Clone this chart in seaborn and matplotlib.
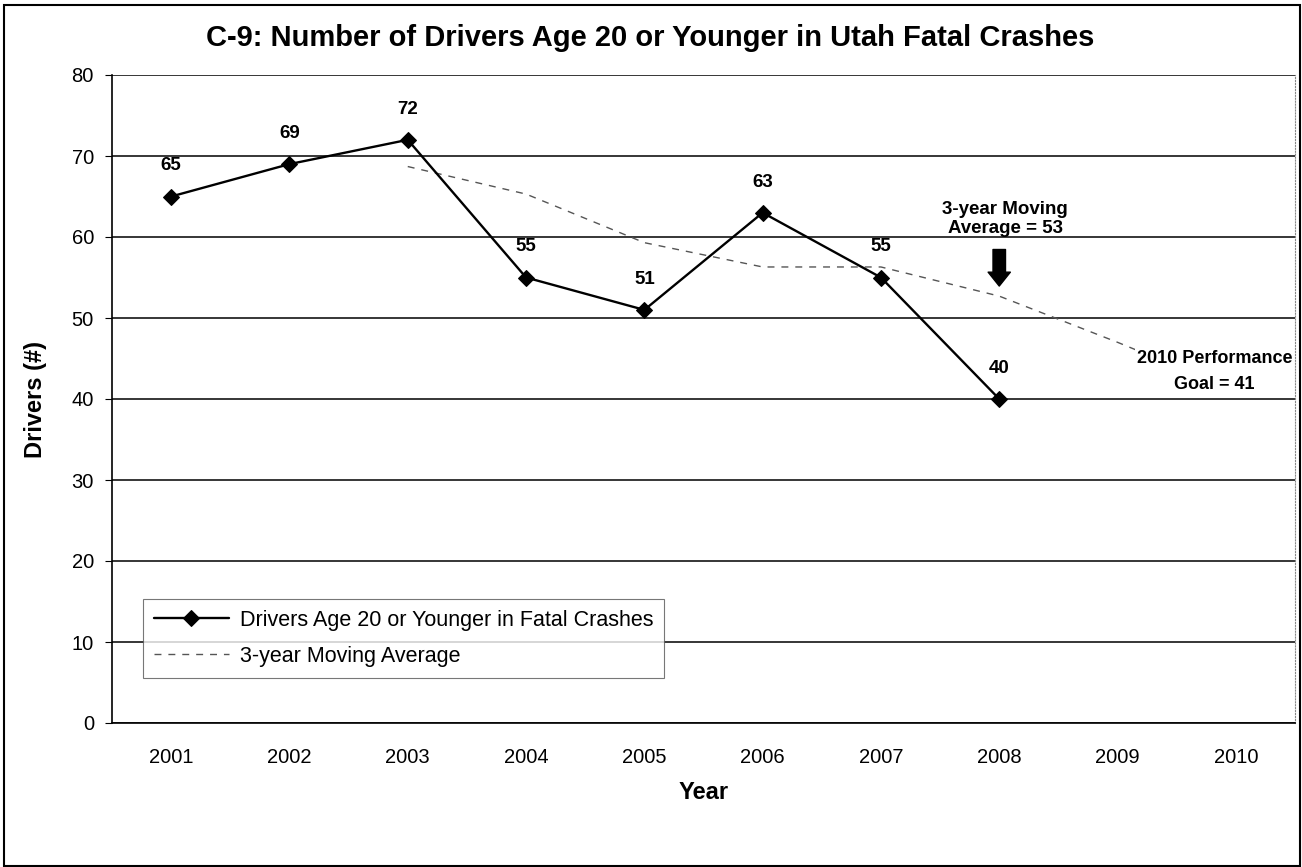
import numpy as np
import matplotlib
matplotlib.use('Agg')
import matplotlib.pyplot as plt
import seaborn as sns

years = [2001, 2002, 2003, 2004, 2005, 2006, 2007, 2008, 2009, 2010]
drivers = [65, 69, 72, 55, 51, 63, 55, 40]
ma_years = [2003, 2004, 2005, 2006, 2007, 2008, 2009, 2010]
moving_avg = [68.7, 65.3, 59.3, 56.3, 56.3, 52.7, 47.0, 41.0]

sns.set_style('white')
plt.rcParams['font.family'] = ['Liberation Sans', 'DejaVu Sans']
plt.rcParams['text.color'] = 'black'
plt.rcParams['axes.labelcolor'] = 'black'
plt.rcParams['xtick.color'] = 'black'
plt.rcParams['ytick.color'] = 'black'

fig = plt.figure(figsize=(13.02, 8.67), dpi=100)
ax = fig.add_axes([112 / 1302, 1 - 723 / 867, (1295 - 112) / 1302, (723 - 75) / 867])

sns.lineplot(x=years[:len(drivers)], y=drivers, ax=ax, color='black', lw=1.7,
             marker='D', markersize=8, markeredgecolor='black',
             label='Drivers Age 20 or Younger in Fatal Crashes', zorder=4)
sns.lineplot(x=ma_years, y=moving_avg, ax=ax, color='#555555', lw=1.0,
             linestyle=(0, (5, 5)), label='3-year Moving Average', zorder=3)

for x, v in zip(years, drivers):
    ax.annotate(str(v), (x, v), xytext=(0, 22), textcoords='offset points',
                ha='center', va='center', fontsize=13.5, fontweight='bold')

ax.set_xlim(2000.5, 2010.5)
ax.set_ylim(0, 80)
ax.set_yticks(range(0, 81, 10))
ax.set_xticks(years)
ax.set_xticks(np.arange(2000.5, 2011, 1), minor=True)
ax.tick_params(axis='x', which='major', length=0, labelsize=14.5, pad=18)
ax.tick_params(axis='x', which='minor', length=5, color='#888888', direction='out')
ax.tick_params(axis='y', length=5, labelsize=14.5, left=True, direction='out', pad=8)
ax.grid(axis='y', color='black', lw=1.1)
ax.set_axisbelow(True)
for s in ['left', 'bottom']:
    ax.spines[s].set_color('black')
    ax.spines[s].set_linewidth(1.2)
ax.spines['top'].set_visible(False)
ax.spines['right'].set_color('#888888')
ax.spines['right'].set_linestyle(':')

ax.set_xlabel('Year', fontsize=17, fontweight='bold', labelpad=10)
ax.set_ylabel('Drivers (#)', fontsize=17, fontweight='bold', labelpad=18)

leg = ax.legend(loc='lower left', bbox_to_anchor=(0.026, 0.07), fontsize=15.5,
                frameon=True, fancybox=False, edgecolor='#555555',
                handlelength=3.5, labelspacing=0.7, borderpad=0.5,
                borderaxespad=0, handletextpad=0.5)
leg.get_frame().set_linewidth(0.8)

narrow = ['Liberation Sans Narrow', 'Liberation Sans', 'DejaVu Sans']
ax.text(2008.05, 62.2, '3-year Moving\nAverage = 53', ha='center', va='center',
        fontsize=13.5, fontweight='bold', family=narrow, linespacing=1.15)
ax.annotate('', xy=(2008.0, 53.6), xytext=(2008.0, 58.8),
            arrowprops=dict(arrowstyle='simple,head_width=1.6,head_length=1.0,tail_width=0.9',
                            color='black'))
ax.text(2009.82, 43.4, '2010 Performance\nGoal = 41', ha='center', va='center',
        fontsize=13, fontweight='bold', family=narrow, linespacing=1.75,
        bbox=dict(facecolor='white', edgecolor='none', pad=1), zorder=5)

fig.text(0.499, 0.956, 'C-9: Number of Drivers Age 20 or Younger in Utah Fatal Crashes',
         ha='center', va='center', fontsize=21, fontweight='bold')

fig.patches.append(plt.Rectangle((4 / 1302, 0.001), 1 - 6 / 1302, 1 - 6 / 867,
                                 transform=fig.transFigure, fill=False,
                                 edgecolor='black', lw=1.5))

fig.savefig('out.png', dpi=100)
